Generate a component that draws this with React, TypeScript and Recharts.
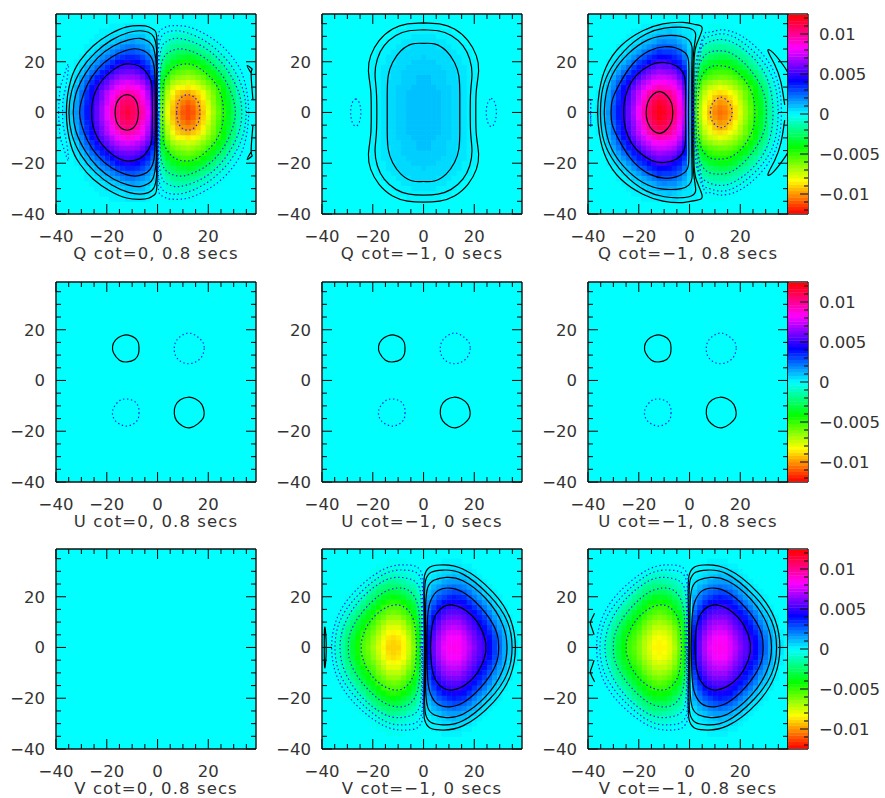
import { Label, ReferenceArea, Scatter, ScatterChart, XAxis, YAxis } from "recharts";

// heat values are in units of 1e-4, on a grid with 2 arcsec spacing
const xTicks = [-40, -35, -30, -25, -20, -15, -10, -5, 0, 5, 10, 15, 20, 25, 30, 35];
const yTicks = [-40, -35, -30, -25, -20, -15, -10, -5, 0, 5, 10, 15, 20, 25, 30, 35];
const barTicks = [-120, -110, -100, -90, -80, -70, -60, -50, -40, -30, -20, -10, 0, 10, 20, 30, 40, 50, 60, 70, 80, 90, 100, 110, 120];
const barLabels: Record<number, string> = { 100: "0.01", 50: "0.005", 0: "0", [-50]: "\u22120.005", [-100]: "\u22120.01" };
const barLevels = [-122, -118, -114, -110, -106, -102, -98, -94, -90, -86, -82, -78, -74, -70, -66, -62, -58, -54, -50, -46, -42, -38, -34, -30, -26, -22, -18, -14, -10, -6, -2, 2, 6, 10, 14, 18, 22, 26, 30, 34, 38, 42, 46, 50, 54, 58, 62, 66, 70, 74, 78, 82, 86, 90, 94, 98, 102, 106, 110, 114, 118, 122];

// one lobe, columns |x| = 0,2..36, rows y = 0,2..34
const qLobe = [
  [0,62,80,95,103,110,113,110,103,92,80,68,58,48,38,28,17,9,3],
  [0,60,78,93,101,108,112,108,101,91,79,67,57,47,37,27,16,8,3],
  [0,58,76,90,98,105,108,105,97,88,76,65,55,45,36,26,15,8,2],
  [0,55,72,86,94,100,103,100,93,84,73,62,53,43,34,24,14,7,2],
  [0,52,70,82,90,94,96,93,88,80,71,61,52,43,33,23,13,6,1],
  [0,47,64,76,82,85,87,84,79,72,64,56,48,39,30,20,11,4,0],
  [0,42,57,68,72,75,77,75,71,65,58,51,43,34,25,17,8,2,0],
  [0,36,50,60,65,67,68,67,63,58,51,44,37,29,21,13,6,1,0],
  [0,30,43,52,56,59,60,58,55,50,44,37,30,23,16,9,3,0,0],
  [0,25,36,44,49,52,53,51,48,42,36,30,23,17,11,6,2,0,0],
  [0,20,29,36,41,44,45,43,39,34,29,23,17,12,7,3,1,0,0],
  [0,15,24,29,33,35,36,34,31,26,22,17,12,8,4,1,0,0,0],
  [0,11,18,23,26,27,28,26,23,19,15,11,7,4,2,0,0,0,0],
  [0,7,13,18,20,21,21,19,16,13,10,7,4,2,1,0,0,0,0],
  [0,4,9,12,14,15,14,12,10,8,6,4,2,1,0,0,0,0,0],
  [0,2,6,9,10,10,10,8,6,5,3,2,1,0,0,0,0,0,0],
  [0,1,3,5,6,6,6,4,3,2,1,1,0,0,0,0,0,0,0],
  [0,0,2,3,3,3,3,2,1,1,0,0,0,0,0,0,0,0,0],
];

const vLobe = [
  [0,42,58,70,79,84,85,84,78,71,63,56,51,42,32,24,14,8,3],
  [0,41,57,69,78,83,84,83,77,70,62,55,50,41,31,23,14,7,3],
  [0,40,55,67,76,81,82,81,75,68,60,53,48,39,30,22,13,7,2],
  [0,38,53,64,72,77,78,77,71,64,57,50,44,36,27,19,11,5,1],
  [0,35,50,60,68,72,73,72,67,60,53,46,40,32,24,16,9,4,0],
  [0,32,46,55,63,67,68,67,62,56,49,42,36,28,20,13,7,2,0],
  [0,29,41,50,57,61,62,61,57,51,45,38,31,24,16,10,5,1,0],
  [0,25,36,45,51,55,56,55,51,46,40,33,26,19,12,7,3,0,0],
  [0,21,31,39,46,50,51,50,46,40,34,27,21,14,8,4,1,0,0],
  [0,17,26,33,39,43,44,43,40,34,28,22,15,9,5,2,0,0,0],
  [0,13,21,27,32,36,37,36,33,28,22,16,10,6,3,1,0,0,0],
  [0,9,16,21,25,28,29,29,26,22,16,11,6,3,1,0,0,0,0],
  [0,6,11,15,19,22,23,22,20,16,11,7,3,1,0,0,0,0,0],
  [0,3,7,10,13,15,16,16,14,10,7,3,1,0,0,0,0,0,0],
  [0,2,4,6,8,10,11,10,9,6,3,1,0,0,0,0,0,0,0],
  [0,1,2,3,5,6,7,6,5,3,1,0,0,0,0,0,0,0,0],
  [0,0,1,1,2,3,3,3,2,1,0,0,0,0,0,0,0,0,0],
  [0,0,0,0,1,1,1,1,0,0,0,0,0,0,0,0,0,0,0],
];

// Q cot=-1, 0 secs: columns |x| = 0,2..22
const q2Rows = [
  [10,9.5,9.5,9,8,7,6,5,4,2.5,1.5,0.5],
  [10,9.5,9.5,9,8,7,6,5,4,2.5,1.5,0.5],
  [10,9.5,9.5,9,8,7,6,5,4,2.5,1.5,0.5],
  [10,9.5,9.5,9,8,7,6,5,4,2.5,1.5,0.5],
  [10,9.5,9.5,9,8,7,6,5,4,2.5,1.5,0.5],
  [10,9.5,9,8.5,7.5,7,6,5,4,2.5,1.5,0.5],
  [10,9,8.5,8,7.5,6.5,6,5,3.5,2.5,1.5,0.5],
  [9.5,9,8.5,8,7,6.5,5.5,4.5,3.5,2.5,1.5,0.5],
  [8.5,8.5,8,7.5,7,6,5.5,4.5,3.5,2.5,1.5,0.5],
  [8,8,7.5,7,6.5,6,5,4,3,2,1,0.5],
  [7.5,7.5,7,6.5,6,5.5,4.5,3.5,2.5,1.5,1,0],
  [7,6.5,6.5,6,5.5,5,4,3,2,1.5,0.5,0],
  [6,6,6,5.5,5,4,3.5,2.5,1.5,1,0,0],
  [5.5,5,5,4.5,4,3.5,2.5,2,1,0.5,0,0],
  [4,4,4,3.5,3,2.5,2,1,0.5,0,0,0],
  [3,3,3,2.5,2,2,1,0.5,0,0,0,0],
  [2.5,2.5,2,2,1.5,1,0.5,0,0,0,0,0],
  [1.5,1.5,1,1,0.5,0.5,0,0,0,0,0,0],
];

// Q cot=-1, 0.8 secs: columns x = -36..36, rows y = 0,2..34
const q3Rows = [
  [3,9,17,28,38,48,58,69,82,95,108,116,120,118,112,105,90,73,11,-51,-70,-85,-94,-102,-106,-104,-98,-89,-78,-67,-58,-48,-38,-28,-17,-9,-3],
  [3,8,16,27,37,47,57,68,81,94,106,114,119,116,110,103,88,71,11,-49,-68,-83,-92,-100,-105,-102,-96,-88,-77,-66,-57,-47,-37,-27,-16,-8,-3],
  [2,8,15,26,36,45,55,66,78,91,102,111,115,113,106,100,86,69,11,-47,-66,-80,-89,-97,-101,-99,-92,-85,-74,-64,-55,-45,-36,-26,-15,-8,-2],
  [2,7,14,24,34,43,53,63,75,87,98,106,110,108,103,96,82,66,11,-44,-62,-76,-85,-92,-96,-94,-88,-81,-71,-61,-53,-43,-34,-24,-14,-7,-2],
  [1,6,13,23,33,43,52,63,73,84,94,100,103,101,99,91,80,61,11,-41,-60,-72,-81,-86,-89,-87,-83,-77,-69,-60,-52,-43,-33,-23,-13,-6,-1],
  [0,4,11,20,30,39,48,58,68,76,84,90,94,92,90,85,74,57,10,-37,-54,-67,-74,-77,-80,-78,-75,-69,-62,-55,-48,-39,-30,-20,-11,-4,0],
  [0,2,8,17,25,34,43,52,61,69,76,81,84,83,80,77,67,52,10,-32,-48,-60,-64,-68,-70,-69,-67,-62,-56,-50,-43,-34,-25,-17,-8,-2,0],
  [0,1,6,13,21,29,37,45,53,61,67,73,75,75,73,69,60,46,10,-26,-40,-51,-57,-59,-61,-61,-59,-55,-49,-43,-37,-29,-21,-13,-6,-1,0],
  [0,0,3,9,16,23,30,38,46,53,59,64,67,65,63,61,52,39,9,-21,-34,-43,-48,-52,-53,-52,-51,-47,-42,-36,-30,-23,-16,-9,-3,0,0],
  [0,0,2,6,11,17,23,31,38,45,52,56,59,58,57,52,44,33,8,-17,-28,-36,-41,-45,-47,-46,-44,-39,-34,-29,-23,-17,-11,-6,-2,0,0],
  [0,0,1,3,7,12,17,24,31,36,42,48,51,51,48,44,37,28,8,-12,-21,-28,-34,-37,-39,-38,-36,-32,-27,-22,-17,-12,-7,-3,-1,0,0],
  [0,0,0,1,4,8,12,17,23,28,34,38,41,41,40,36,31,22,7,-8,-17,-22,-26,-29,-31,-30,-28,-24,-21,-17,-12,-8,-4,-1,0,0,0],
  [0,0,0,0,2,4,7,11,16,21,26,30,33,32,32,29,25,18,7,-4,-11,-17,-20,-22,-23,-22,-20,-17,-14,-11,-7,-4,-2,0,0,0,0],
  [0,0,0,0,1,2,4,7,10,14,18,22,25,26,25,24,19,13,6,-1,-7,-12,-15,-16,-17,-16,-14,-12,-10,-7,-4,-2,-1,0,0,0,0],
  [0,0,0,0,0,1,2,4,6,9,12,14,17,19,18,17,14,9,5,1,-4,-7,-10,-11,-11,-10,-8,-7,-6,-4,-2,-1,0,0,0,0,0],
  [0,0,0,0,0,0,1,2,3,5,7,10,13,13,14,13,10,6,4,2,-2,-5,-6,-7,-7,-6,-5,-5,-3,-2,-1,0,0,0,0,0,0],
  [0,0,0,0,0,0,0,1,1,2,4,5,8,8,9,8,6,4,3,2,0,-2,-3,-4,-4,-3,-2,-2,-1,-1,0,0,0,0,0,0,0],
  [0,0,0,0,0,0,0,0,0,1,1,2,4,4,4,5,4,2,2,2,0,-1,-2,-2,-2,-2,-1,-1,0,0,0,0,0,0,0,0,0],
];

type Pt = number[];

// contours are stored as the upper half, from y=0 over the top back to y=0
const q1Black: Pt[][] = [
  [[-7.5,0],[-8,3.5],[-9.5,6],[-12,7],[-14.5,6],[-16.2,3.5],[-16.7,0]],
  [[-2,0],[-2.1,7.2],[-2.6,12.5],[-4.9,16.4],[-7.5,18.4],[-10.8,19.1],[-14.1,18.7],[-18,16.4],[-22,12.5],[-24.6,7.9],[-25.8,3.3],[-25.9,0]],
  [[-0.9,0],[-0.9,9.9],[-1.3,17.8],[-2.9,22.4],[-5.5,24.3],[-8.8,25.1],[-12.8,24.3],[-18,21.9],[-23.3,17.4],[-27.5,11.2],[-30,4.6],[-30.7,0]],
  [[-0.5,0],[-0.5,13.8],[-0.7,21],[-1.8,26],[-3.6,28],[-6.8,29.2],[-11.4,28.6],[-17.4,26.2],[-23.5,21.6],[-28.6,15],[-32.2,7.2],[-33.2,0]],
  [[-0.3,0],[-0.3,15],[-0.4,25],[-1.5,29.8],[-3.6,31.6],[-6.8,32.2],[-11.4,31.5],[-18,28.6],[-24.5,23.6],[-30,17],[-33.8,8.5],[-34.9,0]],
  [[-0.1,0],[-0.1,17.8],[-0.3,29.6],[-1.3,32.5],[-3.6,33.8],[-6.8,34.2],[-12.1,33.7],[-18.7,30.9],[-25.3,26.3],[-30.5,20.4],[-34.1,13],[-35.9,0]],
];
const q1BlueArc: Pt[] = [[-39,0],[-38.4,9],[-37,14],[-35.1,19],[-36,11],[-37.2,5],[-37.4,0]];
const q1BlackArc: Pt[] = [[37.6,5],[36.9,15.5],[37.2,17.2],[35.3,18.5],[36.9,15.5]];

const q2Black: Pt[][] = [
  [[0,35.3],[6.3,34.9],[12.2,32.9],[17.5,28.3],[20.8,22.4],[21.7,16.4],[20.8,8.6],[20.6,0]],
  [[0,32.6],[5.7,32.2],[10.9,30.3],[15.5,26.3],[18.2,21],[19.1,15.1],[18.6,8.6],[18.4,0]],
  [[0,27.2],[4.3,27],[8.9,24.3],[12.2,19.7],[13.9,14.5],[14.3,7.2],[14.3,0]],
];
const q2BlueLeft: Pt[] = [[-26.7,5.4],[-25.3,3.8],[-24.7,0],[-25.3,-3.8],[-26.7,-5.4],[-28.1,-3.8],[-28.7,0],[-28.1,3.8],[-26.7,5.4]];
const q2BlueRight: Pt[] = [[26.7,5.6],[28.1,3.8],[28.7,0],[28.1,-3.8],[26.7,-5.6],[25.3,-3.8],[24.7,0],[25.3,3.8],[26.7,5.6]];

const q3Black: Pt[][] = [
  [[-6.6,0],[-7,3.5],[-8.8,6.5],[-11.5,8.2],[-14.5,7],[-16.5,3.8],[-17.1,0]],
  [[-1.6,0],[-1.6,11.2],[-2.6,15.8],[-5.3,18.4],[-9.9,19.7],[-15.1,18.8],[-21,14.5],[-24.3,9.2],[-25.7,3.9],[-25.9,0]],
  [[-0.4,0],[-0.3,11.2],[-0.4,20.4],[-2,23.7],[-5.3,25.4],[-9.9,25.9],[-15.8,24.3],[-22.4,19.1],[-27.6,11.2],[-30.5,4.6],[-30.9,0]],
  [[0.9,0],[0.9,17.8],[1,25.7],[-0.3,28.6],[-3.3,30],[-9.2,30.3],[-16.4,28.6],[-24.3,23],[-30.3,15.1],[-32.9,7.2],[-33.6,0]],
  [[1.2,0],[1.3,17.8],[2,27],[2.4,30.9],[0.7,32.9],[-3.9,33.6],[-9.9,33.2],[-17.1,30.9],[-25.7,24.3],[-32.2,15.1],[-34.6,7.2],[-35.1,0]],
  [[1.6,0],[1.7,17.8],[2.6,26.3],[5,32.9],[2.6,34.6],[-2.6,35.5],[-10.5,34.9],[-18.4,32.2],[-27,26.3],[-32.9,17.8],[-35.5,8.6],[-36.2,0]],
];
const q3Blue: Pt[][] = [
  [[8.2,0],[9,3.5],[11,5.5],[12.5,6],[14.5,5],[16.3,2.5],[16.8,0]],
  [[3.3,0],[3.6,8.6],[4.9,14.5],[7.9,17.8],[11.8,18.4],[17.1,17.1],[22.4,11.8],[25.3,5.3],[25.7,0]],
  [[1.7,0],[2.2,11.2],[3.7,18.4],[6.6,23],[11.2,24.3],[17.1,23],[23.7,17.1],[28.9,8.6],[30.3,0]],
  [[1.2,0],[1.6,11.2],[2.9,21.7],[5.3,26.3],[10.5,28.6],[17.1,27.6],[25,21.7],[30.9,12.5],[32.9,0]],
  [[1.6,0],[2.2,11.2],[4.2,26.3],[6.6,29.6],[11.2,30.9],[17.8,29.6],[26.3,23],[32.9,13.2],[34.9,0]],
  [[2,0],[3,11.2],[5.3,28.9],[7.9,31.6],[11.8,32.5],[19.1,30.9],[27.6,24.3],[34.2,13.8],[36.2,0]],
];
const q3BlueArc: Pt[] = [[-39,0],[-38.9,5.3]];
const q3BlackArc: Pt[] = [[37.5,3],[36,12],[33.5,19],[30.9,24.3],[33,23.5],[37,18.5],[38.6,16]];

const vBlack: Pt[][] = [
  [[2.8,0],[3.3,7.9],[5,13.2],[7.9,16.1],[11.6,16.7],[16.8,14.5],[22.1,8.6],[24.5,2],[24.5,0]],
  [[1.3,0],[1.6,11.8],[2.8,18.4],[5.7,22.4],[10.3,23.4],[16.8,21],[24.7,13.2],[29,5.3],[29.6,0]],
  [[0.8,0],[0.8,15.8],[1.7,23.7],[4.3,26.6],[8.9,27.6],[15.5,26.3],[24.7,19.1],[31.1,9.2],[32.9,0]],
  [[0.4,0],[0.4,18.4],[0.8,26.3],[3,29.6],[7.6,30.5],[15.5,28.9],[26,20.4],[32.9,10.5],[34.9,0]],
  [[0.3,0],[0.1,19.7],[0.4,28.3],[2.4,31.6],[6.3,32.5],[15.5,30.9],[27.4,21.7],[34.2,11.2],[36.2,0]],
];
const v2BlackArc: Pt[] = [[-38.4,0],[-38.4,3.3],[-39,7.2]];
const v3BlackArc: Pt[] = [[-37.6,5],[-38.6,8],[-39,10],[-37.4,13.5]];

const uSmall: Pt[] = [[-7.3,13],[-7.5,10.5],[-9,8.3],[-12,7.3],[-15,8],[-17.3,10.8],[-17.7,13.5],[-16.5,16],[-14,17.6],[-11.5,17.9],[-9,16.8],[-7.6,15],[-7.3,13]];
const uBig: Pt[] = [[18.4,-12.6],[17.5,-9.5],[15,-7.3],[12,-6.6],[9,-7.6],[7,-10],[6.6,-13],[7.5,-15.8],[10,-18],[13,-18.6],[16,-17],[18,-14.8],[18.4,-12.6]];

const X_DOMAIN = [-40, 38.8];
const CELL = (2 * 200) / 78.8;
const FONT = "DejaVu Sans";
const INK = "#333";
const LINE = "#111";

const mirrorY = (half: Pt[]): Pt[] => {
  const back = [...half].reverse().map(([x, y]) => [x, -y]);
  return half[half.length - 1][1] === 0 ? [...half, ...back.slice(1)] : [...half, ...back];
};
const flipX = (pts: Pt[]): Pt[] => pts.map(([x, y]) => [-x, y]);
const flipY = (pts: Pt[]): Pt[] => pts.map(([x, y]) => [x, -y]);
const shiftX = (pts: Pt[], d: number): Pt[] => pts.map(([x, y]) => [x + d, y]);
const quadLoop = (q: Pt[]): Pt[] => { const r = mirrorY(q); return [...r, ...flipX([...r].reverse()).slice(1)]; };
const toPoints = (pts: Pt[]) => pts.map(([x, y]) => ({ x, y }));

const heatColor = (v: number) => `hsl(${180 + (180 * Math.round(v / 2) * 2) / 124},100%,50%)`;

type Cell = { x: number; y: number; v: number };

// lobe tables: sign for the left side, right side is the opposite sign
const lobeCells = (rows: number[][], leftAmp: number, rightAmp: number): Cell[] => {
  const out: Cell[] = [];
  rows.forEach((row, i) => {
    row.forEach((val, j) => {
      if (!val) return;
      const x = j * 2;
      const y = i * 2;
      for (const yy of y === 0 ? [0] : [y, -y]) {
        out.push({ x: -x, y: yy, v: val * leftAmp });
        out.push({ x, y: yy, v: val * rightAmp });
      }
    });
  });
  return out;
};

const q2Cells = (): Cell[] => {
  const out: Cell[] = [];
  q2Rows.forEach((row, i) => {
    row.forEach((val, j) => {
      const x = j * 2;
      const y = i * 2;
      for (const yy of y === 0 ? [0] : [y, -y]) {
        out.push({ x, y: yy, v: val });
        if (x) out.push({ x: -x, y: yy, v: val });
      }
    });
  });
  return out;
};

const q3Cells = (): Cell[] => {
  const out: Cell[] = [];
  q3Rows.forEach((row, i) => {
    row.forEach((val, j) => {
      if (!val) return;
      const x = -36 + j * 2;
      const y = i * 2;
      for (const yy of y === 0 ? [0] : [y, -y]) out.push({ x, y: yy, v: val });
    });
  });
  return out;
};

const fmt = (v: number) => (v < 0 ? `\u2212${-v}` : `${v}`);
const textProps = { fontFamily: FONT, fontSize: 16.5, fill: INK };

const BottomTick = ({ x, y, payload }: any) => {
  const major = payload.value % 20 === 0;
  return (
    <g>
      <line x1={x} x2={x} y1={y} y2={y - (major ? 10 : 5)} stroke={LINE} strokeWidth={1.1} />
      {major && <text x={x} y={y + 28} textAnchor="middle" {...textProps}>{fmt(payload.value)}</text>}
    </g>
  );
};
const TopTick = ({ x, y, payload }: any) => (
  <line x1={x} x2={x} y1={y} y2={y + (payload.value % 20 === 0 ? 10 : 5)} stroke={LINE} strokeWidth={1.1} />
);
const LeftTick = ({ x, y, payload }: any) => {
  const major = payload.value % 20 === 0;
  return (
    <g>
      <line x1={x} x2={x + (major ? 10 : 5)} y1={y} y2={y} stroke={LINE} strokeWidth={1.1} />
      {major && <text x={x - 11} y={y + 6} textAnchor="end" {...textProps}>{fmt(payload.value)}</text>}
    </g>
  );
};
const RightTick = ({ x, y, payload }: any) => (
  <line x1={x} x2={x - (payload.value % 20 === 0 ? 10 : 5)} y1={y} y2={y} stroke={LINE} strokeWidth={1.1} />
);
const BarTick = ({ x, y, payload }: any) => {
  const label = barLabels[payload.value];
  return (
    <g>
      <line x1={x} x2={x - (label ? 8 : 4)} y1={y} y2={y} stroke={LINE} strokeWidth={1.1} />
      {label && <text x={x + 11} y={y + 6} {...textProps}>{label}</text>}
    </g>
  );
};

const NoDot = () => <g />;
const HeatCell = ({ cx, cy, payload }: any) => (
  <rect x={cx - CELL / 2} y={cy - CELL / 2} width={CELL + 0.4} height={CELL + 0.4} fill={heatColor(payload.v)} />
);
const BarCell = ({ cx, cy, payload }: any) => (
  <rect x={cx - 10} y={cy - 1.6} width={20} height={3.6} fill={heatColor(payload.y)} />
);

type PanelProps = {
  left: number;
  top: number;
  caption: string;
  cells?: Cell[];
  black?: Pt[][];
  blue?: Pt[][];
};

const AXIS_LINE = { stroke: LINE, strokeWidth: 1.4 };

function Panel({ left, top, caption, cells = [], black = [], blue = [] }: PanelProps) {
  return (
    <div style={{ position: "absolute", left: left - 55, top: top - 10 }}>
      <ScatterChart width={265} height={259} margin={{ top: 9, left: 54, right: 9, bottom: 48 }}>
        <XAxis xAxisId="b" type="number" dataKey="x" domain={X_DOMAIN} ticks={xTicks} interval={0} height={1} allowDataOverflow tickSize={0} tickMargin={0} tickLine={false} axisLine={AXIS_LINE} tick={BottomTick}>
          <Label value={caption} position="bottom" offset={32} fontFamily={FONT} fontSize={16.5} fill={INK} letterSpacing={1.1} />
        </XAxis>
        <XAxis xAxisId="t" orientation="top" type="number" dataKey="x" domain={X_DOMAIN} ticks={xTicks} interval={0} height={1} allowDataOverflow tickSize={0} tickMargin={0} tickLine={false} axisLine={AXIS_LINE} tick={TopTick} />
        <YAxis yAxisId="l" type="number" dataKey="y" domain={X_DOMAIN} ticks={yTicks} interval={0} width={1} allowDataOverflow tickSize={0} tickMargin={0} tickLine={false} axisLine={AXIS_LINE} tick={LeftTick} />
        <YAxis yAxisId="r" orientation="right" type="number" dataKey="y" domain={X_DOMAIN} ticks={yTicks} interval={0} width={1} allowDataOverflow tickSize={0} tickMargin={0} tickLine={false} axisLine={AXIS_LINE} tick={RightTick} />
        <ReferenceArea xAxisId="b" yAxisId="l" x1={X_DOMAIN[0]} x2={X_DOMAIN[1]} y1={X_DOMAIN[0]} y2={X_DOMAIN[1]} fill="#00ffff" fillOpacity={1} stroke="none" />
        {cells.length > 0 && (
          <Scatter xAxisId="b" yAxisId="l" data={cells} shape={HeatCell} isAnimationActive={false} />
        )}
        {black.map((pts, i) => (
          <Scatter key={`k${i}`} xAxisId="b" yAxisId="l" data={toPoints(pts)} line={{ stroke: "#000", strokeWidth: 1.2 }} lineJointType="natural" shape={NoDot} isAnimationActive={false} />
        ))}
        {blue.map((pts, i) => (
          <Scatter key={`b${i}`} xAxisId="b" yAxisId="l" data={toPoints(pts)} line={{ stroke: "#1a1aff", strokeWidth: 1.2, strokeDasharray: "1.4 2.6" }} lineJointType="natural" shape={NoDot} isAnimationActive={false} />
        ))}
      </ScatterChart>
    </div>
  );
}

function ColorBar({ left, top }: { left: number; top: number }) {
  const data = barLevels.map((y) => ({ x: 0.5, y }));
  return (
    <div style={{ position: "absolute", left: left - 1, top: top - 10 }}>
      <ScatterChart width={98} height={259} margin={{ top: 9, left: 0, right: 76, bottom: 48 }}>
        <XAxis xAxisId="b" type="number" dataKey="x" domain={[0, 1]} ticks={[]} height={1} allowDataOverflow tickLine={false} tick={false} axisLine={AXIS_LINE} />
        <XAxis xAxisId="t" orientation="top" type="number" dataKey="x" domain={[0, 1]} ticks={[]} height={1} allowDataOverflow tickLine={false} tick={false} axisLine={AXIS_LINE} />
        <YAxis yAxisId="l" type="number" dataKey="y" domain={[-125, 125]} ticks={[]} width={1} allowDataOverflow tickLine={false} tick={false} axisLine={AXIS_LINE} />
        <YAxis yAxisId="r" orientation="right" type="number" dataKey="y" domain={[-125, 125]} ticks={barTicks} interval={0} width={1} allowDataOverflow tickSize={0} tickMargin={0} tickLine={false} axisLine={AXIS_LINE} tick={BarTick} />
        <Scatter xAxisId="b" yAxisId="l" data={data} shape={BarCell} isAnimationActive={false} />
      </ScatterChart>
    </div>
  );
}

const COLS = [55.5, 321.5, 587.5];
const ROWS = [14, 281.5, 549];

const uBlack = [uSmall, uBig];
const uBlue = [flipY(uBig), flipY(uSmall)];
const q1Loops = q1Black.map(mirrorY);
const q2Loops = q2Black.map(quadLoop);
const q3Loops = q3Black.map(mirrorY);
const q3BlueLoops = q3Blue.map(mirrorY);
const vLoops = vBlack.map(mirrorY);

export default function App() {
  return (
    <div style={{ position: "absolute", left: 0, top: 0, width: 885, height: 798, background: "#fff", overflow: "hidden" }}>
      <Panel left={COLS[0]} top={ROWS[0]} caption="Q cot=0, 0.8 secs" cells={lobeCells(qLobe, 1, -1)}
        black={[...q1Loops, q1BlackArc, flipY(q1BlackArc)]} blue={[...q1Loops.map(flipX), mirrorY(q1BlueArc)]} />
      <Panel left={COLS[1]} top={ROWS[0]} caption={"Q cot=\u22121, 0 secs"} cells={q2Cells()}
        black={q2Loops} blue={[q2BlueLeft, q2BlueRight]} />
      <Panel left={COLS[2]} top={ROWS[0]} caption={"Q cot=\u22121, 0.8 secs"} cells={q3Cells()}
        black={[...q3Loops, q3BlackArc, flipY(q3BlackArc)]} blue={[...q3BlueLoops, mirrorY(q3BlueArc)]} />
      <ColorBar left={COLS[2] + 200} top={ROWS[0]} />

      <Panel left={COLS[0]} top={ROWS[1]} caption="U cot=0, 0.8 secs" black={uBlack} blue={uBlue} />
      <Panel left={COLS[1]} top={ROWS[1]} caption={"U cot=\u22121, 0 secs"} black={uBlack} blue={uBlue} />
      <Panel left={COLS[2]} top={ROWS[1]} caption={"U cot=\u22121, 0.8 secs"} black={uBlack} blue={uBlue} />
      <ColorBar left={COLS[2] + 200} top={ROWS[1]} />

      <Panel left={COLS[0]} top={ROWS[2]} caption="V cot=0, 0.8 secs" />
      <Panel left={COLS[1]} top={ROWS[2]} caption={"V cot=\u22121, 0 secs"} cells={lobeCells(vLobe, -1.07, 1)}
        black={[...vLoops, mirrorY(v2BlackArc)]} blue={vLoops.map(flipX)} />
      <Panel left={COLS[2]} top={ROWS[2]} caption={"V cot=\u22121, 0.8 secs"} cells={lobeCells(vLobe, -1, 1)}
        black={[...vLoops.map((l) => shiftX(l, -0.6)), v3BlackArc, flipY(v3BlackArc)]} blue={vLoops.map(flipX).map((l) => shiftX(l, -0.4))} />
      <ColorBar left={COLS[2] + 200} top={ROWS[2]} />
    </div>
  );
}
